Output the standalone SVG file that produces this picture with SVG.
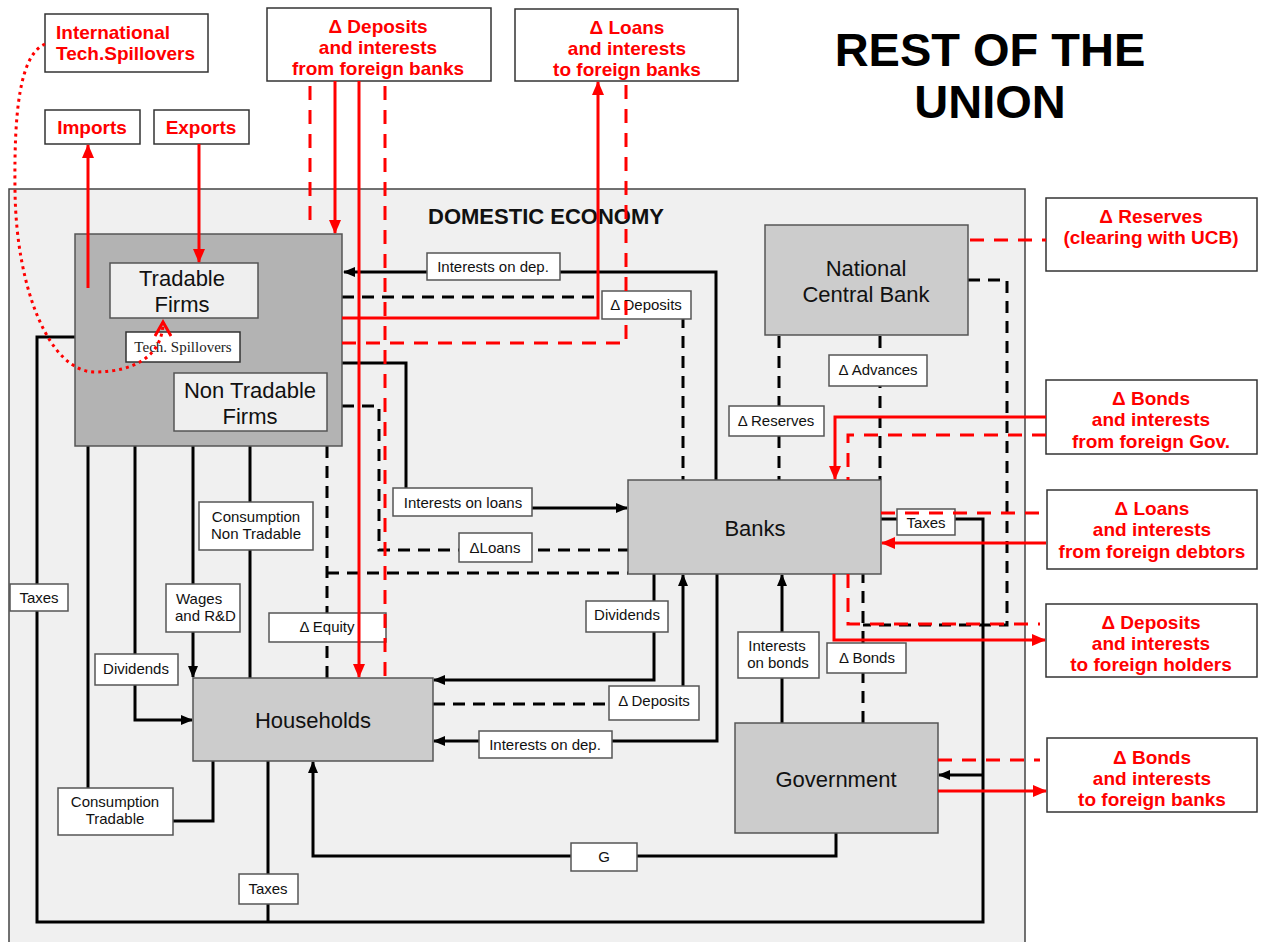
<svg xmlns="http://www.w3.org/2000/svg" width="1264" height="942" viewBox="0 0 1264 942">
<style>
.t{font-family:"Liberation Sans",Arial,sans-serif}
.node{stroke:#555;stroke-width:1.5}
.g1{fill:#cccccc}
.g2{fill:#b3b3b3}
.g3{fill:#efefef}
.nt{font-family:"Liberation Sans",Arial,sans-serif;font-size:22px;fill:#111;text-anchor:middle}
.lb rect{fill:#fff;stroke:#555;stroke-width:1.5}
.lb text{font-family:"Liberation Sans",Arial,sans-serif;font-size:15px;fill:#111;text-anchor:middle}
.fx rect{fill:#fff;stroke:#333;stroke-width:1.5}
.fx text{font-family:"Liberation Sans",Arial,sans-serif;font-size:19px;font-weight:bold;fill:#ff0000;text-anchor:middle}
.k{fill:none;stroke:#000;stroke-width:3}
.kd{fill:none;stroke:#000;stroke-width:3;stroke-dasharray:12 8}
.r{fill:none;stroke:#ff0000;stroke-width:3}
.rd{fill:none;stroke:#ff0000;stroke-width:3;stroke-dasharray:14 10}
.dot{fill:none;stroke-width:3;stroke-dasharray:3 4}
</style>
<defs>
<marker id="ab" markerUnits="userSpaceOnUse" markerWidth="12" markerHeight="12" viewBox="0 0 12 12" refX="11" refY="6" orient="auto"><path d="M0,1 L12,6 L0,11 z" fill="#000"/></marker>
<marker id="ar" markerUnits="userSpaceOnUse" markerWidth="14" markerHeight="14" viewBox="0 0 14 14" refX="13" refY="7" orient="auto"><path d="M0,1 L14,7 L0,13 z" fill="#ff0000"/></marker>
<marker id="vb" markerUnits="userSpaceOnUse" markerWidth="14" markerHeight="14" viewBox="0 0 14 14" refX="12" refY="7" orient="auto"><path d="M1,1 L12,7 L1,13" fill="none" stroke="#000" stroke-width="3"/></marker>
<marker id="vr" markerUnits="userSpaceOnUse" markerWidth="18" markerHeight="18" viewBox="0 0 18 18" refX="15" refY="9" orient="auto"><path d="M1,1 L15,9 L1,17" fill="none" stroke="#ff0000" stroke-width="3"/></marker>
</defs>

<rect x="0" y="0" width="1264" height="942" fill="#fff"/>
<g id="domestic-economy">
<rect x="9" y="189" width="1016" height="770" fill="#f0f0f0" stroke="#444" stroke-width="1.5"/>
<text class="t" x="546" y="224" font-size="22" font-weight="bold" text-anchor="middle" fill="#111">DOMESTIC ECONOMY</text>
</g>
<g id="title">
<text class="t" x="990" y="66" font-size="47" font-weight="bold" text-anchor="middle" fill="#000">REST OF THE</text>
<text class="t" x="990" y="118" font-size="47" font-weight="bold" text-anchor="middle" fill="#000">UNION</text>
</g>

<g id="connectors">
<path class="k" d="M716,480 V272 H344" marker-end="url(#ab)"/>
<path class="kd" d="M342,297 H683 V480"/>
<path class="k" d="M342,363 H406 V508 H627" marker-end="url(#ab)"/>
<path class="kd" d="M342,406 H379 V550 H628"/>
<path class="kd" d="M327,446 V678"/>
<path class="kd" d="M327,573 H628"/>
<path class="k" d="M213,761 V821 H88 V288 H109" marker-end="url(#ab)"/>
<path class="k" d="M75,337 H37 V922 H983 V519 H881"/>
<path class="k" d="M983,775 H939" marker-end="url(#ab)"/>
<path class="k" d="M268,761 V922"/>
<path class="k" d="M135,446 V720 H192" marker-end="url(#ab)"/>
<path class="k" d="M193,446 V677" marker-end="url(#ab)"/>
<path class="k" d="M250,678 V432" marker-end="url(#ab)"/>
<path class="k" d="M836,833 V856 H313 V762" marker-end="url(#ab)"/>
<path class="k" d="M654,574 V680 H434" marker-end="url(#ab)"/>
<path class="kd" d="M433,704 H609"/>
<path class="k" d="M683,686 V575" marker-end="url(#ab)"/>
<path class="k" d="M717,574 V741 H434" marker-end="url(#ab)"/>
<path class="k" d="M782,723 V575" marker-end="url(#ab)"/>
<path class="kd" d="M863,723 V574"/>
<path class="kd" d="M968,280 H1007 V625 H863"/>
<path class="kd" d="M779,336 V480"/>
<path class="kd" d="M880,336 V480"/>
<path class="dot" stroke="#000" d="M157,363 C145,378 148,400 172,402" marker-end="url(#vb)"/>
<path class="dot" stroke="#000" d="M238,358 Q250,362 251,373"/>
</g>

<g id="firms">
<rect class="node g2" x="75" y="234" width="267" height="212"/>
</g>
<g id="tradable-firms">
<rect class="node g3" x="110" y="263" width="148" height="55"/>
<text class="nt" x="182" y="286">Tradable</text>
<text class="nt" x="182" y="312">Firms</text>
</g>
<g id="tech-spillovers">
<rect x="126" y="332" width="114" height="30" fill="#fff" stroke="#333" stroke-width="1.5"/>
<text x="183" y="352" font-family="'Liberation Serif','Times New Roman',serif" font-size="15" text-anchor="middle" fill="#222">Tech. Spillovers</text>
</g>
<g id="non-tradable-firms">
<rect class="node g3" x="174" y="373" width="153" height="58"/>
<text class="nt" x="250" y="398">Non Tradable</text>
<text class="nt" x="250" y="424">Firms</text>
</g>
<g id="national-central-bank">
<rect class="node g1" x="765" y="225" width="203" height="110"/>
<text class="nt" x="866" y="276">National</text>
<text class="nt" x="866" y="302">Central Bank</text>
</g>
<g id="banks">
<rect class="node g1" x="628" y="480" width="253" height="94"/>
<text class="nt" x="755" y="536">Banks</text>
</g>
<g id="households">
<rect class="node g1" x="193" y="678" width="240" height="83"/>
<text class="nt" x="313" y="728">Households</text>
</g>
<g id="government">
<rect class="node g1" x="735" y="723" width="203" height="110"/>
<text class="nt" x="836" y="787">Government</text>
</g>

<g id="labels" class="lb">
<g id="lbl-int-dep-top"><rect x="427" y="253" width="133" height="27"/><text x="493" y="272">Interests on dep.</text></g>
<g id="lbl-dep-top"><rect x="602" y="291" width="89" height="28"/><text x="646" y="310">Δ Deposits</text></g>
<g id="lbl-reserves"><rect x="729" y="406" width="95" height="30"/><text x="776" y="426">Δ Reserves</text></g>
<g id="lbl-advances"><rect x="829" y="355" width="98" height="31"/><text x="878" y="375">Δ Advances</text></g>
<g id="lbl-int-loans"><rect x="393" y="488" width="139" height="28"/><text x="463" y="508">Interests on loans</text></g>
<g id="lbl-loans"><rect x="459" y="533" width="73" height="29"/><text x="495" y="553">ΔLoans</text></g>
<g id="lbl-cons-nt"><rect x="199" y="502" width="114" height="48"/><text x="256" y="522">Consumption</text><text x="256" y="539">Non Tradable</text></g>
<g id="lbl-taxes-left"><rect x="10" y="584" width="58" height="27"/><text x="39" y="603">Taxes</text></g>
<g id="lbl-wages"><rect x="166" y="584" width="74" height="48"/><text x="176" y="604" style="text-anchor:start">Wages</text><text x="175" y="621" style="text-anchor:start">and R&amp;D</text></g>
<g id="lbl-equity"><rect x="269" y="613" width="117" height="29"/><text x="327" y="632">Δ Equity</text></g>
<g id="lbl-div-left"><rect x="95" y="654" width="83" height="31"/><text x="136" y="674">Dividends</text></g>
<g id="lbl-div-right"><rect x="586" y="601" width="82" height="31"/><text x="627" y="620">Dividends</text></g>
<g id="lbl-dep-low"><rect x="609" y="686" width="90" height="34"/><text x="654" y="706">Δ Deposits</text></g>
<g id="lbl-int-dep-low"><rect x="479" y="731" width="133" height="27"/><text x="545" y="750">Interests on dep.</text></g>
<g id="lbl-int-bonds"><rect x="738" y="632" width="81" height="46"/><text x="777" y="651">Interests</text><text x="778" y="668">on bonds</text></g>
<g id="lbl-bonds"><rect x="827" y="643" width="79" height="30"/><text x="867" y="663">Δ Bonds</text></g>
<g id="lbl-taxes-right"><rect x="897" y="509" width="58" height="26"/><text x="926" y="528">Taxes</text></g>
<g id="lbl-cons-t"><rect x="58" y="788" width="115" height="47"/><text x="115" y="807">Consumption</text><text x="115" y="824">Tradable</text></g>
<g id="lbl-taxes-bottom"><rect x="239" y="874" width="59" height="30"/><text x="268" y="894">Taxes</text></g>
<g id="lbl-g"><rect x="571" y="843" width="66" height="28"/><text x="604" y="862">G</text></g>
</g>

<g id="foreign-nodes" class="fx">
<g id="intl-spillovers"><rect x="45" y="14" width="163" height="58"/><text x="56" y="39" style="text-anchor:start">International</text><text x="56" y="60" style="text-anchor:start">Tech.Spillovers</text></g>
<g id="imports"><rect x="45" y="110" width="95" height="34"/><text x="92" y="134">Imports</text></g>
<g id="exports"><rect x="154" y="110" width="95" height="34"/><text x="201" y="134">Exports</text></g>
<g id="dep-from-foreign-banks"><rect x="267" y="8" width="224" height="73"/><text x="378" y="33">Δ Deposits</text><text x="378" y="54">and interests</text><text x="378" y="75">from foreign banks</text></g>
<g id="loans-to-foreign-banks"><rect x="515" y="9" width="223" height="72"/><text x="627" y="34">Δ Loans</text><text x="627" y="55">and interests</text><text x="627" y="76">to foreign banks</text></g>
<g id="reserves-ucb"><rect x="1046" y="198" width="211" height="73"/><text x="1151" y="223">Δ Reserves</text><text x="1151" y="244">(clearing with UCB)</text></g>
<g id="bonds-foreign-gov"><rect x="1046" y="380" width="211" height="74"/><text x="1151" y="405">Δ Bonds</text><text x="1151" y="426">and interests</text><text x="1151" y="448">from foreign Gov.</text></g>
<g id="loans-foreign-debtors"><rect x="1047" y="490" width="210" height="79"/><text x="1152" y="515">Δ Loans</text><text x="1152" y="536">and interests</text><text x="1152" y="558">from foreign debtors</text></g>
<g id="dep-foreign-holders"><rect x="1046" y="604" width="211" height="73"/><text x="1151" y="629">Δ Deposits</text><text x="1151" y="650">and interests</text><text x="1151" y="671">to foreign holders</text></g>
<g id="bonds-foreign-banks"><rect x="1047" y="738" width="210" height="74"/><text x="1152" y="764">Δ Bonds</text><text x="1152" y="785">and interests</text><text x="1152" y="806">to foreign banks</text></g>
</g>

<g id="foreign-connectors">
<path class="rd" d="M310,86 V228"/>
<path class="r" d="M335,81 V233" marker-end="url(#ar)"/>
<path class="r" d="M359,81 V677" marker-end="url(#ar)"/>
<path class="rd" d="M385,86 V678"/>
<path class="r" d="M342,318 H598 V82" marker-end="url(#ar)"/>
<path class="rd" d="M342,343 H626 V82"/>
<path class="r" d="M88,288 V145" marker-end="url(#ar)"/>
<path class="r" d="M199,144 V262" marker-end="url(#ar)"/>
<path class="dot" stroke="#ff0000" d="M45,44 C20,55 14,110 15,190 C16,290 50,372 95,372 C135,372 163,355 163,322" marker-end="url(#vr)"/>
<path class="rd" d="M970,240 H1046"/>
<path class="r" d="M1046,417 H835 V479" marker-end="url(#ar)"/>
<path class="rd" d="M1046,435 H848 V480"/>
<path class="rd" d="M881,513 H1040"/>
<path class="r" d="M1046,543 H882" marker-end="url(#ar)"/>
<path class="r" d="M834,574 V640 H1045" marker-end="url(#ar)"/>
<path class="rd" d="M848,574 V624 H1040"/>
<path class="rd" d="M938,760 H1040"/>
<path class="r" d="M938,791 H1046" marker-end="url(#ar)"/>
</g>
</svg>
